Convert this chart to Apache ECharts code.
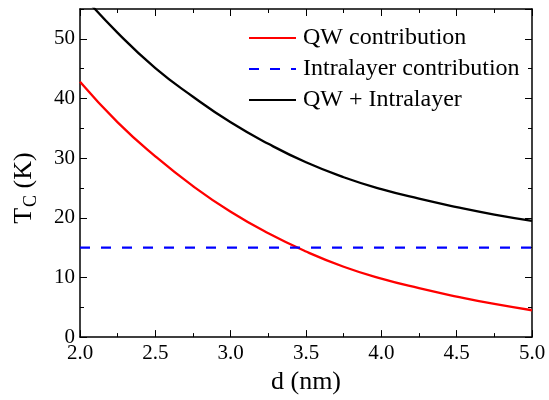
<!DOCTYPE html>
<html>
<head>
<meta charset="utf-8">
<script src="https://cdn.jsdelivr.net/npm/echarts@6/dist/echarts.min.js"></script>
<style>
  html, body { margin: 0; padding: 0; background: #fff; }
  #chart { width: 549px; height: 400px; }
</style>
</head>
<body>
<div id="chart"></div>
<script>
// thickness d (nm)
const dValues = [2.0, 2.25, 2.5, 2.75, 3.0, 3.25, 3.5, 3.75, 4.0, 4.25, 4.5, 4.75, 5.0];
// Tc (K)
const qwContribution = [42.8, 36.0, 30.3, 25.3, 21.0, 17.4, 14.35, 11.8, 9.8, 8.2, 6.8, 5.55, 4.5];
const intralayer = [15, 15, 15, 15, 15, 15, 15, 15, 15, 15, 15, 15, 15];
const qwPlusIntralayer = [57.8, 51.0, 45.1, 40.3, 36.0, 32.4, 29.3, 26.8, 24.8, 23.2, 21.8, 20.55, 19.5];
const seriesNames = ['QW contribution', 'Intralayer contribution', 'QW + Intralayer'];

const font = "'Liberation Serif', 'Times New Roman', serif";

function pairs(ys) {
    return dValues.map((d, i) => [d, ys[i]]);
}

const chart = echarts.init(document.getElementById('chart'));

// inward ticks on all four sides
function xAx(pos, showLabel) {
    return {
        type: 'value',
        position: pos,
        min: 2, max: 5, interval: 0.5,
        axisLine: { show: true, onZero: false, lineStyle: { color: '#000', width: 1.5 } },
        axisTick: { show: true, inside: true, length: 7, lineStyle: { color: '#000', width: 1 } },
        minorTick: { show: true, splitNumber: 2, length: 4, lineStyle: { color: '#000', width: 1 } },
        splitLine: { show: false },
        axisLabel: {
            show: showLabel,
            color: '#000', fontFamily: font, fontSize: 21, margin: 6,
            formatter: v => v.toFixed(1)
        }
    };
}
function yAx(pos, interval, tickLen, showLine, showLabel) {
    return {
        type: 'value',
        position: pos,
        min: 0, max: 55, interval: interval,
        axisLine: { show: showLine, onZero: false, lineStyle: { color: '#000', width: 1.5 } },
        axisTick: { show: true, inside: true, length: tickLen, lineStyle: { color: '#000', width: 1 } },
        splitLine: { show: false },
        axisLabel: {
            show: showLabel, showMaxLabel: false,
            color: '#000', fontFamily: font, fontSize: 21, margin: 5
        }
    };
}

const xBottom = xAx('bottom', true);
xBottom.name = 'd (nm)';
xBottom.nameLocation = 'middle';
xBottom.nameGap = 29;
xBottom.nameTextStyle = { color: '#000', fontFamily: font, fontSize: 26 };

const yLeft = yAx('left', 10, 7, true, true);
yLeft.name = '{t|T}{s|C}{t| (K)}';
yLeft.nameLocation = 'middle';
yLeft.nameGap = 40;
yLeft.nameTextStyle = {
    color: '#000', fontFamily: font, fontSize: 26,
    padding: [0, 30, 0, 0],
    rich: {
        t: { fontFamily: font, fontSize: 26, color: '#000' },
        s: { fontFamily: font, fontSize: 18, color: '#000', padding: [14, 0, 0, 1] }
    }
};

const option = {
    animation: false,
    grid: { left: 80, right: 17, top: 9, bottom: 57, containLabel: false },
    legend: {
        orient: 'vertical',
        left: 243, top: 21,
        itemWidth: 47, itemHeight: 14, itemGap: 7,
        itemStyle: { opacity: 0 },
        textStyle: { color: '#000', fontFamily: font, fontSize: 24, padding: [0, 0, 0, 2] },
        data: seriesNames
    },
    xAxis: [xBottom, xAx('top', false)],
    yAxis: [
        yLeft,
        yAx('left', 5, 4, false, false),
        yAx('right', 10, 7, true, false),
        yAx('right', 5, 4, false, false)
    ],
    series: [
        {
            name: seriesNames[0], type: 'line', smooth: 0.5, symbol: 'none',
            data: pairs(qwContribution),
            lineStyle: { color: '#ff0000', width: 2.3 },
            itemStyle: { color: '#ff0000' }
        },
        {
            name: seriesNames[1], type: 'line', symbol: 'none',
            data: pairs(intralayer),
            lineStyle: { color: '#0000ff', width: 2.3, type: [10, 11] },
            itemStyle: { color: '#0000ff' }
        },
        {
            name: seriesNames[2], type: 'line', smooth: 0.5, symbol: 'none',
            data: pairs(qwPlusIntralayer),
            lineStyle: { color: '#000', width: 2.3 },
            itemStyle: { color: '#000' }
        }
    ]
};

chart.setOption(option);
</script>
</body>
</html>
